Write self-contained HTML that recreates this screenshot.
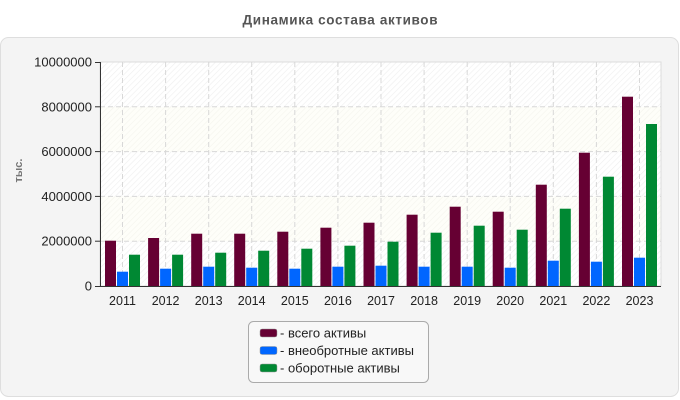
<!DOCTYPE html>
<html><head><meta charset="utf-8"><style>
html,body{margin:0;padding:0;background:#fff;}
svg{display:block;font-family:"Liberation Sans",sans-serif;}
</style></head><body>
<svg width="680" height="400" viewBox="0 0 680 400" xmlns="http://www.w3.org/2000/svg">
<defs>
<pattern id="h" width="4" height="4" patternUnits="userSpaceOnUse" patternTransform="rotate(45)">
<rect width="4" height="4" fill="#ffffff"/>
<line x1="0" y1="0" x2="0" y2="4" stroke="#efefef" stroke-width="1.2"/>
</pattern>
<pattern id="hy" width="4" height="4" patternUnits="userSpaceOnUse" patternTransform="rotate(45)">
<rect width="4" height="4" fill="#fefef9"/>
<line x1="0" y1="0" x2="0" y2="4" stroke="#f4f4ee" stroke-width="1.2"/>
</pattern>
</defs>
<text x="340" y="24.5" text-anchor="middle" font-size="13.5" font-weight="bold" fill="#555" textLength="195">Динамика состава активов</text>
<rect x="0.5" y="37.5" width="678" height="359" rx="8" fill="#f4f4f4" stroke="#dedede"/>
<!-- plot area -->
<rect x="100" y="62" width="561" height="45" fill="url(#h)"/>
<rect x="100" y="107" width="561" height="44.6" fill="url(#hy)"/>
<rect x="100" y="151.6" width="561" height="44.8" fill="url(#h)"/>
<rect x="100" y="196.4" width="561" height="44.8" fill="url(#hy)"/>
<rect x="100" y="241.2" width="561" height="44.8" fill="url(#h)"/>
<rect x="100" y="62" width="561" height="224" fill="none" stroke="#dcdcdc"/>
<g stroke="#d8d8d8" stroke-dasharray="5,3" stroke-width="1">
<line x1="100" x2="661" y1="106.8" y2="106.8"/>
<line x1="100" x2="661" y1="151.6" y2="151.6"/>
<line x1="100" x2="661" y1="196.4" y2="196.4"/>
<line x1="100" x2="661" y1="241.2" y2="241.2"/>
<line x1="122.5" x2="122.5" y1="62" y2="286"/>
<line x1="165.6" x2="165.6" y1="62" y2="286"/>
<line x1="208.7" x2="208.7" y1="62" y2="286"/>
<line x1="251.7" x2="251.7" y1="62" y2="286"/>
<line x1="294.8" x2="294.8" y1="62" y2="286"/>
<line x1="337.9" x2="337.9" y1="62" y2="286"/>
<line x1="381" x2="381" y1="62" y2="286"/>
<line x1="424.1" x2="424.1" y1="62" y2="286"/>
<line x1="467.2" x2="467.2" y1="62" y2="286"/>
<line x1="510.2" x2="510.2" y1="62" y2="286"/>
<line x1="553.3" x2="553.3" y1="62" y2="286"/>
<line x1="596.4" x2="596.4" y1="62" y2="286"/>
<line x1="639.5" x2="639.5" y1="62" y2="286"/>
</g>
<!-- bars -->
<g fill="#660033">
<rect x="105" y="240.7" width="11" height="45.3"/>
<rect x="148.1" y="238" width="11" height="48"/>
<rect x="191.2" y="233.7" width="11" height="52.3"/>
<rect x="234.2" y="233.7" width="11" height="52.3"/>
<rect x="277.3" y="231.7" width="11" height="54.3"/>
<rect x="320.4" y="227.7" width="11" height="58.3"/>
<rect x="363.5" y="222.7" width="11" height="63.3"/>
<rect x="406.6" y="214.7" width="11" height="71.3"/>
<rect x="449.7" y="206.7" width="11" height="79.3"/>
<rect x="492.7" y="211.7" width="11" height="74.3"/>
<rect x="535.8" y="184.7" width="11" height="101.3"/>
<rect x="578.9" y="152.7" width="11" height="133.3"/>
<rect x="622" y="96.7" width="11" height="189.3"/>
</g>
<g fill="#0066ff">
<rect x="117" y="271.7" width="11" height="14.3"/>
<rect x="160.1" y="268.7" width="11" height="17.3"/>
<rect x="203.2" y="266.7" width="11" height="19.3"/>
<rect x="246.2" y="267.7" width="11" height="18.3"/>
<rect x="289.3" y="268.7" width="11" height="17.3"/>
<rect x="332.4" y="266.7" width="11" height="19.3"/>
<rect x="375.5" y="265.7" width="11" height="20.3"/>
<rect x="418.6" y="266.7" width="11" height="19.3"/>
<rect x="461.7" y="266.7" width="11" height="19.3"/>
<rect x="504.7" y="267.7" width="11" height="18.3"/>
<rect x="547.8" y="260.7" width="11" height="25.3"/>
<rect x="590.9" y="261.7" width="11" height="24.3"/>
<rect x="634" y="257.7" width="11" height="28.3"/>
</g>
<g fill="#008833">
<rect x="129" y="254.7" width="11" height="31.3"/>
<rect x="172.1" y="254.7" width="11" height="31.3"/>
<rect x="215.2" y="252.7" width="11" height="33.3"/>
<rect x="258.2" y="250.7" width="11" height="35.3"/>
<rect x="301.3" y="248.7" width="11" height="37.3"/>
<rect x="344.4" y="245.7" width="11" height="40.3"/>
<rect x="387.5" y="241.7" width="11" height="44.3"/>
<rect x="430.6" y="232.7" width="11" height="53.3"/>
<rect x="473.7" y="225.7" width="11" height="60.3"/>
<rect x="516.7" y="229.7" width="11" height="56.3"/>
<rect x="559.8" y="208.7" width="11" height="77.3"/>
<rect x="602.9" y="176.7" width="11" height="109.3"/>
<rect x="646" y="124" width="11" height="162"/>
</g>
<!-- axes -->
<g stroke="#333" stroke-width="1">
<line x1="100.5" y1="62" x2="100.5" y2="286.5"/>
<line x1="100" y1="286.5" x2="661" y2="286.5"/>
<line x1="95" x2="100" y1="62.5" y2="62.5"/>
<line x1="95" x2="100" y1="106.8" y2="106.8"/>
<line x1="95" x2="100" y1="151.6" y2="151.6"/>
<line x1="95" x2="100" y1="196.4" y2="196.4"/>
<line x1="95" x2="100" y1="241.2" y2="241.2"/>
<line x1="95" x2="100" y1="286.5" y2="286.5"/>
</g>
<g font-size="13" fill="#222" text-anchor="end">
<text x="92" y="66.5">10000000</text>
<text x="92" y="111.3">8000000</text>
<text x="92" y="156.1">6000000</text>
<text x="92" y="200.9">4000000</text>
<text x="92" y="245.7">2000000</text>
<text x="92" y="290.5">0</text>
</g>
<g font-size="12.5" fill="#222" text-anchor="middle">
<text x="122.5" y="305">2011</text>
<text x="165.6" y="305">2012</text>
<text x="208.7" y="305">2013</text>
<text x="251.7" y="305">2014</text>
<text x="294.8" y="305">2015</text>
<text x="337.9" y="305">2016</text>
<text x="381" y="305">2017</text>
<text x="424.1" y="305">2018</text>
<text x="467.2" y="305">2019</text>
<text x="510.2" y="305">2020</text>
<text x="553.3" y="305">2021</text>
<text x="596.4" y="305">2022</text>
<text x="639.5" y="305">2023</text>
</g>
<text transform="translate(22,170.5) rotate(-90)" text-anchor="middle" font-size="11" font-weight="bold" fill="#777">тыс.</text>
<!-- legend -->
<rect x="248.5" y="321.5" width="180" height="61" rx="5" fill="#f8f8f8" stroke="#aaa"/>
<rect x="260" y="329" width="17" height="8" rx="2" fill="#660033" stroke="#999" stroke-width="0.5"/>
<rect x="260" y="346.5" width="17" height="8" rx="2" fill="#0066ff" stroke="#999" stroke-width="0.5"/>
<rect x="260" y="364" width="17" height="8" rx="2" fill="#008833" stroke="#999" stroke-width="0.5"/>
<g font-size="13" fill="#222">
<text x="280" y="337.5">- всего активы</text>
<text x="280" y="355">- внеобротные активы</text>
<text x="280" y="372.5">- оборотные активы</text>
</g>
</svg>
</body></html>
